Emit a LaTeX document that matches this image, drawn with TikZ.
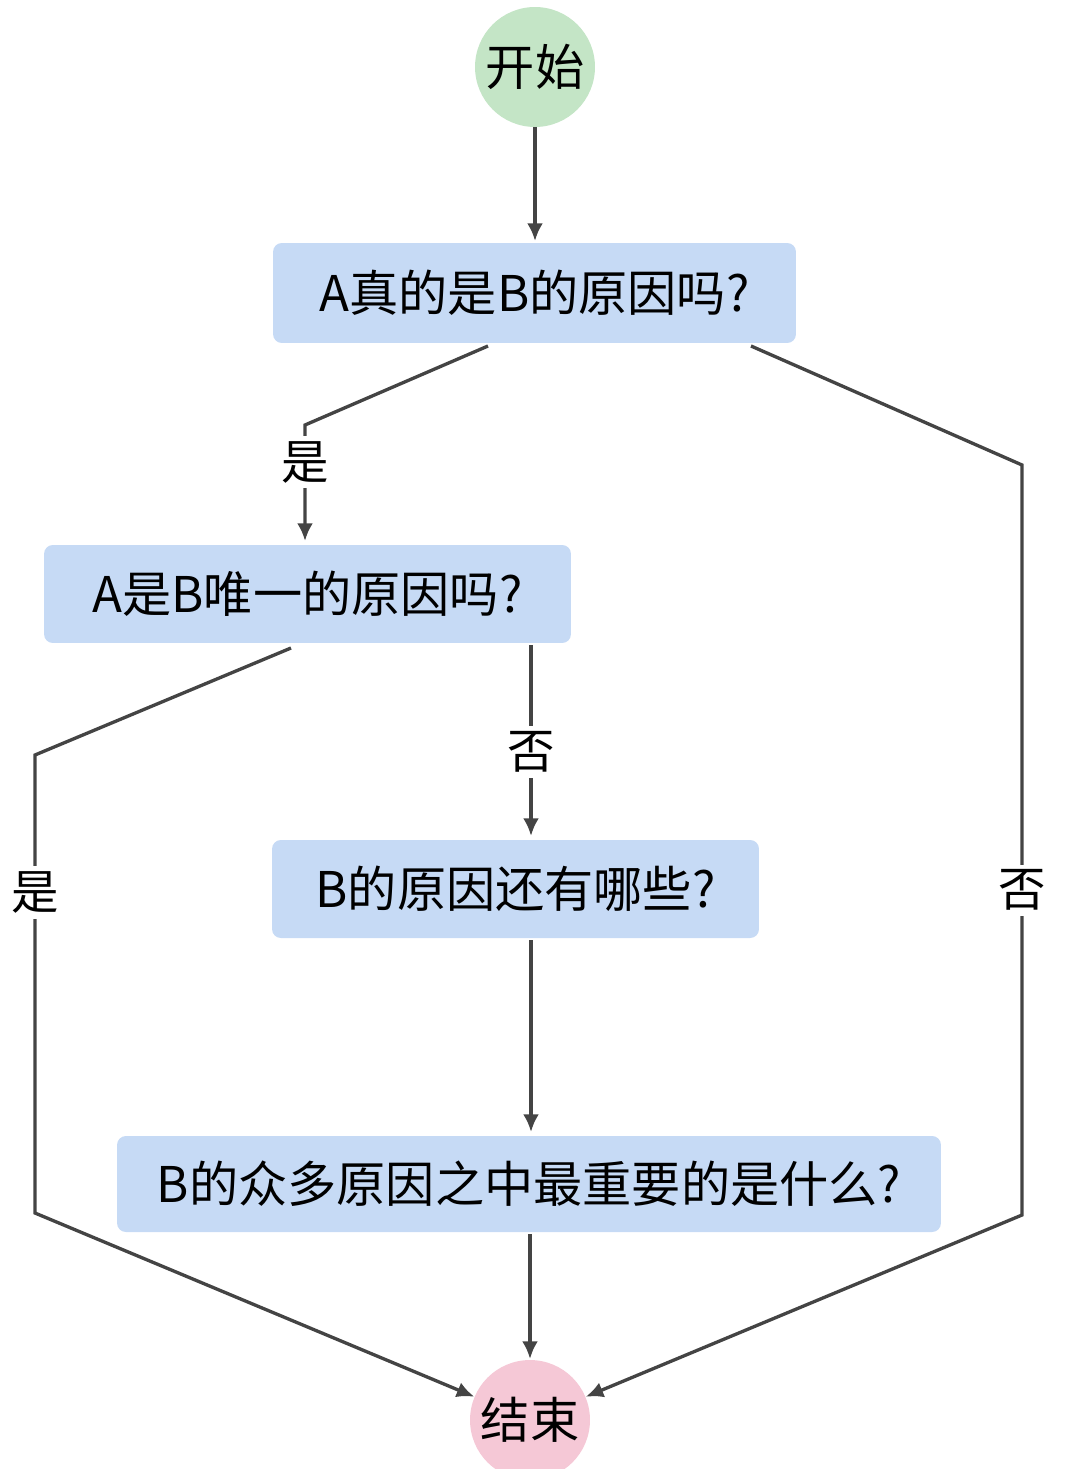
\documentclass[tikz,border=0pt]{standalone}
\usepackage{fontspec}
\setmainfont{Noto Sans CJK SC}
\usetikzlibrary{arrows.meta}
\definecolor{boxblue}{HTML}{C6DAF5}
\definecolor{startgreen}{HTML}{C4E5C6}
\definecolor{endpink}{HTML}{F5C8D6}
\definecolor{linegray}{HTML}{444444}
\begin{document}
\begin{tikzpicture}[x=0.02cm,y=-0.02cm,
    question/.style={fill=boxblue, rounded corners=5pt, font=\fontsize{28}{32}\selectfont, inner sep=0pt},
    term/.style={circle, minimum size=2.4cm, inner sep=0pt, font=\fontsize{28}{32}\selectfont},
    flow/.style={draw=linegray, line width=1.9pt, -{Latex[length=10pt,width=9pt]}},
    lbl/.style={fill=white, inner sep=3pt, font=\fontsize{27}{30}\selectfont}]
    \useasboundingbox (0,0) rectangle (1071,1469);
    \node[term, fill=startgreen] (start) at (535,67) {开始};
    \node[question, minimum width=10.46cm, minimum height=2cm] (q1) at (534.5,293) {A真的是B的原因吗?};
    \node[question, minimum width=10.54cm, minimum height=1.96cm] (q2) at (307.5,594) {A是B唯一的原因吗?};
    \node[question, minimum width=9.74cm, minimum height=1.96cm] (q3) at (515.5,889) {B的原因还有哪些?};
    \node[question, minimum width=16.48cm, minimum height=1.92cm] (q4) at (529,1184) {B的众多原因之中最重要的是什么?};
    \node[term, fill=endpink] (stop) at (530,1420) {结束};
    % corner points
    \coordinate (s1) at (535,127);
    \coordinate (s2) at (535,241);
    \coordinate (a1) at (488,346);
    \coordinate (a2) at (305,425);
    \coordinate (a3) at (305,541);
    \coordinate (r1) at (751,346);
    \coordinate (r2) at (1022,465);
    \coordinate (r3) at (1022,1215);
    \coordinate (l1) at (291,648);
    \coordinate (l2) at (35,755);
    \coordinate (l3) at (35,1213);
    \coordinate (m1) at (531,645);
    \coordinate (m2) at (531,836);
    \coordinate (m3) at (531,940);
    \coordinate (m4) at (531,1132);
    \coordinate (e1) at (530,1234);
    \coordinate (e2) at (530,1359);
    \draw[flow] (s1) -- (s2);
    \draw[flow] (a1) -- (a2) -- node[lbl, pos=0.32] {是} (a3);
    \draw[flow] (r1) -- (r2) -- node[lbl, pos=0.567] {否} (r3) -- (stop);
    \draw[flow] (l1) -- (l2) -- node[lbl, pos=0.3] {是} (l3) -- (stop);
    \draw[flow] (m1) -- node[lbl, pos=0.56] {否} (m2);
    \draw[flow] (m3) -- (m4);
    \draw[flow] (e1) -- (e2);
\end{tikzpicture}
\end{document}
